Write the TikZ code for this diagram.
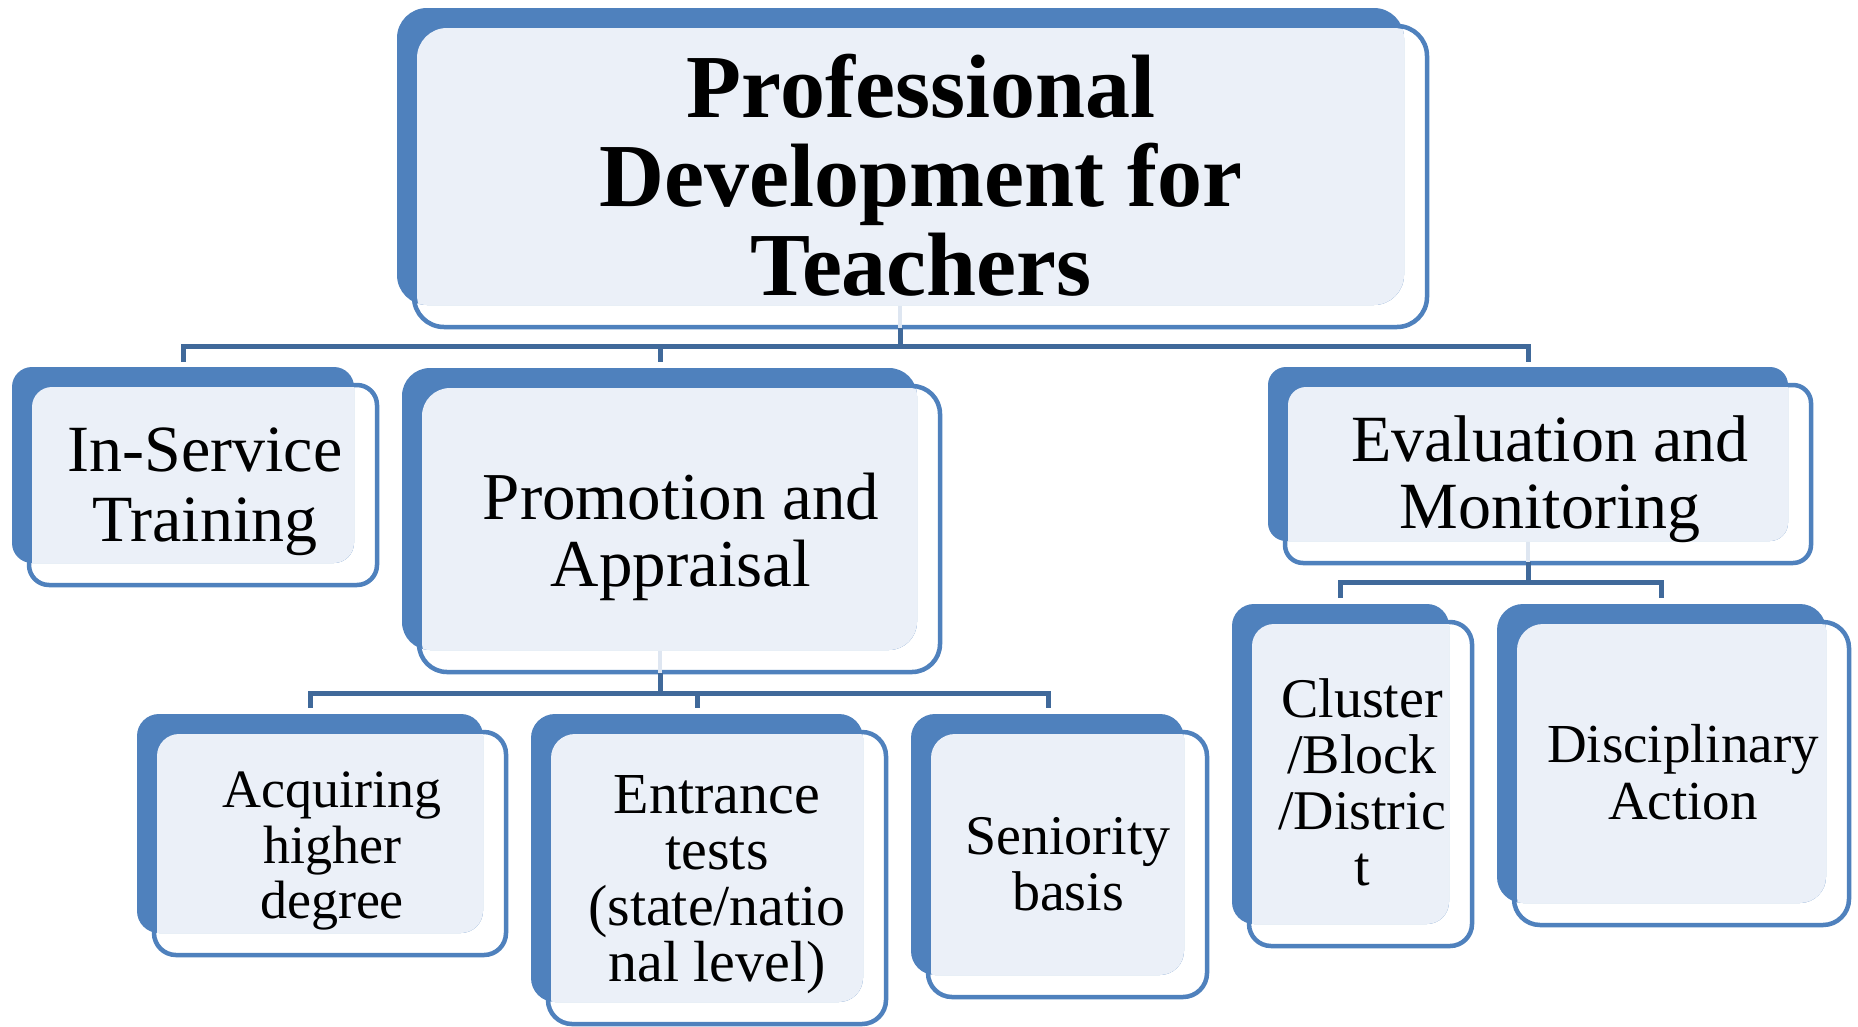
\documentclass[tikz,border=0pt]{standalone}
\usepackage{fontspec}
\setmainfont{Liberation Serif}
\definecolor{dkblue}{RGB}{79,129,189}
\definecolor{ltfill}{RGB}{235,240,248}
\definecolor{faint}{RGB}{222,230,241}
\definecolor{conncol}{RGB}{64,105,154}
% #1 x1, #2 y1, #3 x2, #4 y2, #5 corner radius (pixel units, y downwards)
\newcommand\pdbox[5]{%
  \draw[outl, rounded corners=#5pt] (#1+17,#2+18) rectangle (#3+23,#4+22);
  \fill[dkblue, rounded corners=#5pt] (#1,#2) rectangle (#3,#4);
  \begin{scope}
    \clip[rounded corners=#5pt] (#1,#2) rectangle (#3,#4);
    \fill[ltfill, rounded corners=#5pt] (#1+20,#2+20) rectangle (#3+20,#4+20);
  \end{scope}%
}
\begin{document}
\begin{tikzpicture}[x=1pt,y=-1pt,
  outl/.style={draw=dkblue, line width=4.5pt, fill=white},
  conn/.style={draw=conncol, line width=5pt, line join=miter},
  faintline/.style={draw=faint, line width=4pt},
  lbl/.style={align=center, inner sep=0pt, text=black}]
\useasboundingbox (0,0) rectangle (1858,1026);
\fill[white] (0,0) rectangle (1858,1026);

% boxes
\pdbox{397}{8}{1404}{305}{30}
\pdbox{12}{367}{354}{563}{20}
\pdbox{402}{368}{917}{650}{28}
\pdbox{1268}{367}{1788}{541}{18}
\pdbox{137}{714}{483}{933}{22}
\pdbox{531}{714}{863}{1002}{24}
\pdbox{911}{714}{1184}{975}{24}
\pdbox{1232}{604}{1449}{924}{22}
\pdbox{1497}{604}{1826}{903}{26}

% texts
\node[lbl, font=\fontsize{90}{89}\selectfont\bfseries] (main) at (921,175) {Professional\\Development for\\Teachers};
\node[lbl, font=\fontsize{66}{70}\selectfont] (ist) at (205,492) {In-Service\\Training};
\node[lbl, font=\fontsize{67}{67}\selectfont] (prom) at (681,537) {Promotion and\\Appraisal};
\node[lbl, font=\fontsize{66}{67}\selectfont] (eval) at (1550,479) {Evaluation and\\Monitoring};
\node[lbl, font=\fontsize{54}{55.5}\selectfont] (acq) at (332,851) {Acquiring\\higher\\degree};
\node[lbl, font=\fontsize{58}{56}\selectfont] (ent) at (717,885) {Entrance\\tests\\(state/natio\\nal level)};
\node[lbl, font=\fontsize{56}{56}\selectfont] (sen) at (1068,864) {Seniority\\basis};
\node[lbl, font=\fontsize{56}{56}\selectfont] (clu) at (1362,782) {Cluster\\/Block\\/Distric\\t};
\node[lbl, font=\fontsize{55}{57}\selectfont] (dis) at (1683,772) {Disciplinary\\Action};

% connector anchor points
\coordinate (main-b) at (900,328);
\coordinate (ist-t) at (183,362);
\coordinate (prom-t) at (660,362);
\coordinate (eval-t) at (1528,362);
\coordinate (prom-b) at (660,673);
\coordinate (acq-t) at (310,708);
\coordinate (ent-t) at (697,708);
\coordinate (sen-t) at (1048,708);
\coordinate (eval-b) at (1528,562);
\coordinate (clu-t) at (1340,598);
\coordinate (dis-t) at (1661,598);

% faint stubs inside shapes
\draw[faintline] (900,306) -- (main-b);
\draw[faintline] (660,651) -- (prom-b);
\draw[faintline] (1528,542) -- (eval-b);

% connectors
\draw[conn] (main-b) -- ++(0,18) -| (ist-t);
\draw[conn] (main-b) -- ++(0,18) -| (prom-t);
\draw[conn] (main-b) -- ++(0,18) -| (eval-t);
\draw[conn] (prom-b) -- ++(0,20) -| (acq-t);
\draw[conn] (prom-b) -- ++(0,20) -| (ent-t);
\draw[conn] (prom-b) -- ++(0,20) -| (sen-t);
\draw[conn] (eval-b) -- ++(0,20) -| (clu-t);
\draw[conn] (eval-b) -- ++(0,20) -| (dis-t);
\end{tikzpicture}
\end{document}
